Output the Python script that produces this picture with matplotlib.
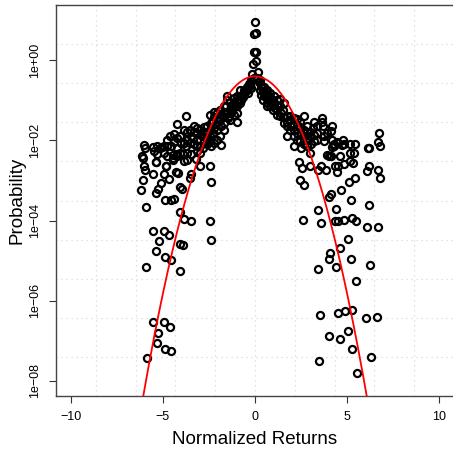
import numpy as np
import matplotlib
matplotlib.use('Agg')
import matplotlib.pyplot as plt
from matplotlib import rcParams


rcParams['font.family'] = ['Liberation Sans', 'DejaVu Sans']

# normalized return (x) and log10 of the probability (y) for each bin
returns = [
    # spike at zero
    0.0, 0.04, -0.04, -0.07, 0.07, 0.04, -0.11, 0.14, -0.14, -0.04, 0.1, 0.22, -0.22,
    # left band
    -0.25, -0.28, -0.22, -0.43, -0.46, -0.40, -0.62, -0.6, -0.65,
    -0.8, -0.83, -0.78, -0.82, -0.98, -0.95, -1.0, -0.97, -1.0,
    -1.16, -1.13, -1.18, -1.15, -1.34, -1.31, -1.36, -1.33,
    -1.52, -1.5, -1.55, -1.52, -1.49, -1.7, -1.68, -1.72, -1.7, -1.67,
    -1.88, -1.86, -1.9, -1.87, -1.9, -1.85, -2.07, -2.05, -2.1, -2.06, -2.08,
    -2.25, -2.23, -2.27, -2.24, -2.26, -2.22, -2.43, -2.41, -2.45, -2.42, -2.44, -2.4,
    -2.61, -2.6, -2.63, -2.58, -2.79, -2.77, -2.81, -2.78, -2.8,
    -2.97, -2.95, -2.99, -2.96, -2.98, -2.97, -3.15, -3.13, -3.17, -3.14, -3.16,
    -3.33, -3.31, -3.35, -3.32, -3.51, -3.49, -3.53, -3.5,
    -3.7, -3.68, -3.72, -3.69, -3.71, -3.77,
    -3.88, -3.86, -3.9, -3.87, -4.06, -4.04, -4.08,
    -4.24, -4.22, -4.26, -4.23, -4.42, -4.4, -4.44, -4.46,
    -4.6, -4.57, -4.78, -4.76, -4.8, -4.82, -4.96, -4.94,
    -5.14, -5.07, -5.33, -5.3, -5.4, -5.51, -5.49,
    -6.0, -5.97, -6.12, -6.1, -6.0, -5.98,
    -0.35, -0.55, -0.72, -0.9, -1.08, -1.25, -1.42,
    # left scattered tail
    -6.09, -6.16, -5.94, -5.91, -5.4, -5.25, -5.11, -4.96, -4.67, -5.51,
    -4.86, -4.57, -4.42, -4.31, -4.17, -4.06, -3.95, -3.48, -3.55,
    -2.43, -2.39, -2.43, -2.39, -4.09, -3.88, -3.48, -4.06, -3.91, -4.06,
    -5.51, -5.22, -4.96, -4.67, -5.36, -4.86, -4.57,
    -5.54, -4.93, -5.25, -4.64, -5.33, -4.89, -4.57, -5.87,
    -4.24, -4.46, -3.19, -4.82, -5.4,
    # right band
    0.29, 0.31, 0.27, 0.3, 0.47, 0.45, 0.49, 0.46,
    0.65, 0.63, 0.67, 0.64, 0.66, 0.83, 0.81, 0.85, 0.82,
    1.01, 0.99, 1.03, 1.0, 1.2, 1.18, 1.22, 1.19,
    1.38, 1.36, 1.4, 1.37, 1.56, 1.54, 1.58, 1.55,
    1.74, 1.72, 1.76, 1.73, 1.92, 1.9, 1.94, 1.91,
    2.1, 2.08, 2.12, 2.09, 2.11, 2.28, 2.26, 2.3, 2.27,
    2.46, 2.44, 2.48, 2.45, 2.47, 2.68, 2.66, 2.7, 2.67,
    2.83, 2.81, 2.85, 2.82, 3.0, 2.98, 3.02, 2.99,
    3.19, 3.17, 3.21, 3.18, 3.37, 3.35, 3.39,
    3.66, 3.64, 3.68, 3.73, 3.75, 3.91, 3.93,
    4.17, 4.15, 4.19, 4.16, 4.28, 4.3, 4.46, 4.48,
    4.75, 4.73, 4.82, 5.18, 5.16, 5.4, 5.38,
    0.38, 0.56, 0.74, 0.92, 1.1,
    # right scattered tail
    2.39, 2.57, 2.43, 2.64, 3.0, 3.41, 3.59, 3.88, 3.99, 4.13,
    4.35, 4.46, 4.49, 4.64, 4.82, 5.18, 5.33, 5.11, 5.43, 4.68,
    4.02, 4.13, 5.22, 6.09, 6.16, 6.12, 6.2, 6.74, 6.7, 6.81,
    6.7, 6.81, 6.2, 6.09, 6.67,
    3.41, 2.61, 3.59, 4.42, 4.35, 4.49, 4.82, 5.29, 5.47, 5.07,
    4.64, 4.06, 4.02, 4.38, 3.44, 5.22, 5.47, 6.23,
    3.51, 4.53, 4.86, 5.29, 6.05, 6.63, 4.02, 4.64, 5.07, 5.25,
    3.48, 5.51, 6.27,
]

log10_prob = [
    # spike at zero
    0.95, 0.68, 0.65, 0.2, 0.2, -0.02, -0.08, -0.28, -0.33, -0.45, -0.45, -0.55, -0.48,
    # left band
    -0.57, -0.63, -0.7, -0.67, -0.75, -0.82, -0.73, -0.83, -0.92,
    -0.75, -0.88, -0.98, -1.07, -0.9, -0.98, -1.15, -1.32, -1.55,
    -0.95, -1.07, -1.19, -1.36, -1.03, -1.13, -1.23, -1.48,
    -0.9, -0.98, -1.15, -1.32, -1.45, -1.15, -1.28, -1.4, -1.57, -1.75,
    -1.23, -1.36, -1.5, -1.65, -1.9, -2.12, -1.32, -1.44, -1.58, -1.75, -1.98,
    -1.28, -1.41, -1.52, -1.69, -1.82, -2.07, -1.36, -1.57, -1.73, -1.9, -2.02, -2.15,
    -1.65, -1.82, -1.97, -2.08, -1.67, -1.8, -1.9, -2.02, -2.19,
    -1.73, -1.86, -1.98, -2.15, -2.32, -2.65, -1.69, -1.82, -1.98, -2.15, -2.27,
    -1.65, -1.8, -1.94, -2.08, -1.75, -1.9, -2.07, -2.33,
    -1.78, -1.98, -2.15, -2.32, -2.48, -1.4,
    -1.73, -2.07, -2.33, -2.52, -1.9, -2.07, -2.32,
    -1.58, -1.94, -2.19, -2.4, -1.85, -2.04, -2.36, -2.48,
    -1.88, -2.15, -1.98, -2.15, -2.4, -2.65, -2.15, -2.32,
    -2.19, -2.17, -2.15, -2.33, -2.53, -2.17, -2.27,
    -2.12, -2.2, -2.4, -2.45, -2.65, -2.73,
    -0.6, -0.78, -0.86, -1.02, -1.12, -1.27, -1.38,
    # left scattered tail
    -3.0, -3.25, -3.67, -5.15, -3.32, -3.22, -3.07, -2.85, -2.97, -2.85,
    -3.48, -3.48, -3.47, -2.78, -2.82, -3.17, -3.22, -2.85, -2.95,
    -2.63, -3.03, -4.02, -4.48, -3.78, -3.97, -4.02, -4.58, -4.62, -5.25,
    -4.25, -4.5, -4.25, -4.37, -4.77, -4.92, -4.98,
    -6.53, -6.53, -6.8, -6.65, -7.05, -7.2, -7.25, -7.44,
    -2.35, -2.45, -2.47, -2.65, -2.53,
    # right band
    -0.48, -0.61, -0.73, -0.86, -0.67, -0.78, -0.9, -0.98,
    -0.73, -0.83, -0.95, -1.07, -1.15, -0.82, -0.92, -1.03, -1.13,
    -0.9, -0.98, -1.11, -1.23, -0.98, -1.11, -1.23, -1.36,
    -0.97, -1.15, -1.32, -1.4, -1.07, -1.23, -1.42, -1.57,
    -1.4, -1.53, -1.65, -1.9, -1.4, -1.5, -1.63, -1.75,
    -1.44, -1.58, -1.75, -1.9, -2.15, -1.47, -1.61, -1.82, -1.98,
    -1.53, -1.67, -1.86, -2.02, -2.19, -1.4, -1.73, -1.9, -2.08,
    -1.65, -1.8, -1.98, -2.15, -1.78, -1.9, -2.08, -2.32,
    -1.55, -1.69, -1.86, -2.02, -1.63, -1.82, -1.98,
    -1.44, -1.55, -1.65, -1.9, -2.02, -1.82, -2.36,
    -1.63, -1.77, -1.98, -2.17, -2.08, -2.15, -2.03, -2.07,
    -1.98, -2.12, -2.08, -2.08, -2.32, -2.08, -2.32,
    -0.7, -0.85, -1.0, -1.06, -1.18,
    # right scattered tail
    -2.55, -2.68, -2.98, -3.12, -2.63, -2.75, -2.63, -2.73, -2.38, -2.38,
    -2.65, -2.78, -2.63, -2.38, -2.58, -2.52, -2.57, -3.05, -2.95, -3.23,
    -3.42, -3.33, -3.48, -2.77, -2.65, -2.2, -2.18, -1.82, -2.03, -2.15,
    -2.73, -2.95, -3.61, -4.15, -4.15,
    -3.73, -3.98, -4.07, -3.72, -4.02, -4.0, -3.98, -3.93, -4.0, -4.45,
    -4.68, -4.82, -4.97, -5.15, -5.22, -4.95, -5.52, -5.12,
    -6.35, -6.3, -6.27, -6.23, -6.43, -6.42, -6.88, -6.95, -6.75, -7.22,
    -7.52, -7.82, -7.42,
]

# fitted gaussian
mu = 0.0
sigma = 1.0

x_limits = (-10.8, 10.8)
log_y_limits = (-8.383, 1.383)
x_ticks = [-10, -5, 0, 5, 10]
y_ticks = [1e0, 1e-2, 1e-4, 1e-6, 1e-8]
y_tick_labels = ['1e+00', '1e\u221202', '1e\u221204', '1e\u221206', '1e\u221208']

prob = 10.0 ** np.array(log10_prob)
xx = np.linspace(-10, 10, 801)
dens = np.exp(-0.5 * ((xx - mu) / sigma) ** 2) / (sigma * np.sqrt(2 * np.pi))

fig = plt.figure(figsize=(4.53, 4.53), dpi=100)
ax = fig.add_axes([56 / 453, 57 / 453, 398 / 453, 391 / 453])
ax.set_yscale('log')
ax.set_xlim(x_limits)
ax.set_ylim(10 ** log_y_limits[0], 10 ** log_y_limits[1])

# grid(10, 10) style: equal divisions of the plotting region
for k in range(1, 10):
    gx = x_limits[0] + k * (x_limits[1] - x_limits[0]) / 10
    gy = 10 ** (log_y_limits[0] + k * (log_y_limits[1] - log_y_limits[0]) / 10)
    ax.axvline(gx, color='#dadada', linestyle=(0, (1, 3)), linewidth=0.9, zorder=0)
    ax.axhline(gy, color='#dadada', linestyle=(0, (1, 3)), linewidth=0.9, zorder=0)

ax.plot(returns, prob, linestyle='none', marker='o', markersize=5.1,
        markerfacecolor='none', markeredgecolor='black', markeredgewidth=1.6,
        zorder=2)
ax.plot(xx, dens, color='red', linewidth=1.3, zorder=3)

ax.set_xticks(x_ticks)
ax.set_xticklabels([str(t).replace('-', '\u2212') for t in x_ticks])
ax.set_yticks(y_ticks)
ax.set_yticklabels(y_tick_labels, rotation=90, va='center')
ax.minorticks_off()
ax.tick_params(axis='both', which='major', length=5, width=0.8,
               labelsize=9, pad=6, color='#333333')

for side in ['top', 'bottom', 'left', 'right']:
    ax.spines[side].set_color('#444444')
    ax.spines[side].set_linewidth(1.0)

ax.set_xlabel('Normalized Returns', fontsize=13.5, va='center')
ax.xaxis.set_label_coords(0.5, (396 - 440) / 391)
ax.set_ylabel('Probability', fontsize=13.5, va='center')
ax.yaxis.set_label_coords((17 - 56) / 398, 0.5)

fig.savefig('out.png', dpi=100)
